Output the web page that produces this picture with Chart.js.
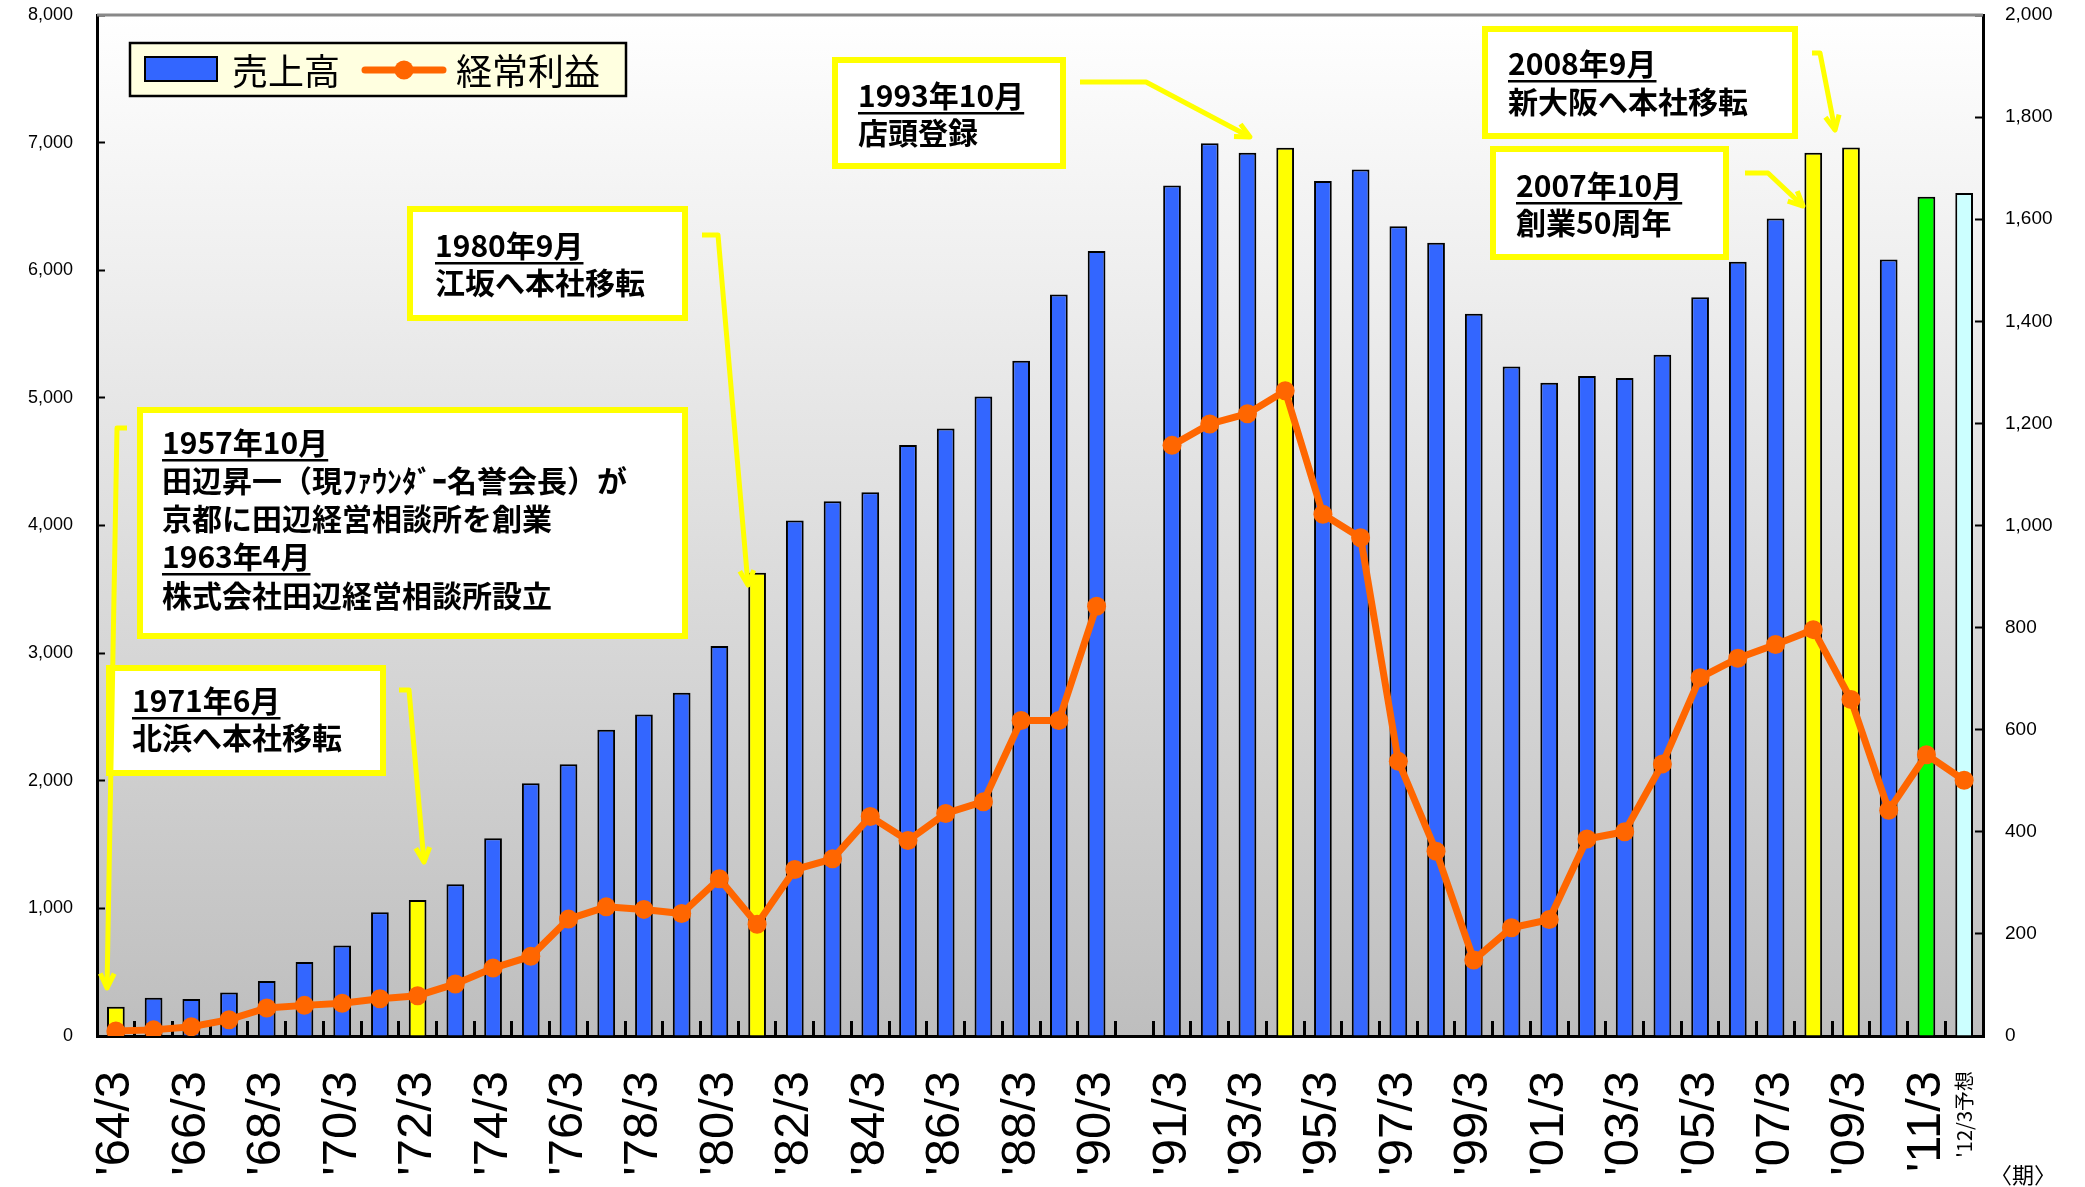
<!DOCTYPE html>
<html lang="ja">
<head>
<meta charset="utf-8">
<title>売上高・経常利益の推移</title>
<script src="https://cdn.jsdelivr.net/npm/chart.js@4.4.1/dist/chart.umd.min.js"></script>
<style>
  html, body { margin: 0; padding: 0; background: #fff; }
  canvas { display: block; }
</style>
</head>
<body>
<canvas id="chart" width="2085" height="1187"></canvas>
<script>
// fiscal periods (March year-end); the empty entry is the blank slot between '90 and '91
const periods = [
  "'64/3", "'65/3", "'66/3", "'67/3", "'68/3", "'69/3", "'70/3", "'71/3", "'72/3", "'73/3",
  "'74/3", "'75/3", "'76/3", "'77/3", "'78/3", "'79/3", "'80/3", "'81/3", "'82/3", "'83/3",
  "'84/3", "'85/3", "'86/3", "'87/3", "'88/3", "'89/3", "'90/3", "",
  "'91/3", "'92/3", "'93/3", "'94/3", "'95/3", "'96/3", "'97/3", "'98/3", "'99/3", "'00/3",
  "'01/3", "'02/3", "'03/3", "'04/3", "'05/3", "'06/3", "'07/3", "'08/3", "'09/3", "'10/3",
  "'11/3", "'12/3予想"
];

// 売上高 (left axis)
const sales = [
  230, 300, 290, 340, 430, 580, 710, 970, 1065, 1190,
  1550, 1980, 2130, 2400, 2520, 2690, 3055, 3630, 4040, 4190,
  4260, 4630, 4760, 5010, 5290, 5810, 6150, null,
  6665, 6995, 6920, 6960, 6700, 6790, 6345, 6215, 5660, 5245,
  5118, 5172, 5155, 5338, 5788, 6066, 6405, 6920, 6962, 6085,
  6575, 6605
];

// 経常利益 (right axis)
const ordinaryProfit = [
  10, 12, 18, 32, 55, 60, 64, 73, 79, 102,
  133, 156, 229, 253, 248, 240, 308, 219, 326, 347,
  430, 383, 436, 459, 618, 618, 842, null,
  1157, 1199, 1219, 1264, 1022, 976, 538, 362, 149, 212,
  228, 386, 400, 533, 702, 740, 767, 796, 659, 442,
  551, 501
];

// which periods get a tick label
const shownTicks = [
  "'64/3", "'66/3", "'68/3", "'70/3", "'72/3", "'74/3", "'76/3", "'78/3", "'80/3", "'82/3",
  "'84/3", "'86/3", "'88/3", "'90/3",
  "'91/3", "'93/3", "'95/3", "'97/3", "'99/3", "'01/3", "'03/3", "'05/3", "'07/3", "'09/3",
  "'11/3", "'12/3予想"
];

// milestone years marked in yellow
const milestonePeriods = ["'64/3", "'72/3", "'81/3", "'94/3", "'08/3", "'09/3"];
const latestPeriod = "'11/3";
const forecastPeriod = "'12/3予想";

const BLUE = '#3366FF';
const ORANGE = '#FF6600';
const JP = '"Noto Sans CJK JP", "Noto Sans", sans-serif';

const barColors = periods.map(p => {
  if (milestonePeriods.includes(p)) return '#FFFF00';
  if (p === latestPeriod) return '#00FF00';
  if (p === forecastPeriod) return '#CCFFFF';
  return BLUE;
});

// gradient plot background + top frame line
const backdrop = {
  id: 'backdrop',
  beforeDraw(chart) {
    const { ctx, chartArea: a } = chart;
    const g = ctx.createLinearGradient(0, a.top, 0, a.bottom);
    g.addColorStop(0, '#FFFFFF');
    g.addColorStop(1, '#BEBEBE');
    ctx.save();
    ctx.fillStyle = g;
    ctx.fillRect(a.left, a.top, a.right - a.left, a.bottom - a.top);
    ctx.restore();
  },
  afterDraw(chart) {
    const { ctx, chartArea: a } = chart;
    ctx.save();
    ctx.strokeStyle = '#888';
    ctx.lineWidth = 3;
    ctx.beginPath();
    ctx.moveTo(a.left, a.top);
    ctx.lineTo(a.right, a.top);
    ctx.stroke();
    ctx.restore();
  }
};

function arrow(ctx, pts) {
  ctx.beginPath();
  ctx.moveTo(pts[0][0], pts[0][1]);
  for (let i = 1; i < pts.length; i++) ctx.lineTo(pts[i][0], pts[i][1]);
  ctx.stroke();
  const [x1, y1] = pts[pts.length - 2];
  const [x2, y2] = pts[pts.length - 1];
  const ang = Math.atan2(y2 - y1, x2 - x1);
  const len = 16;
  ctx.beginPath();
  ctx.moveTo(x2 - len * Math.cos(ang - 0.45), y2 - len * Math.sin(ang - 0.45));
  ctx.lineTo(x2, y2);
  ctx.lineTo(x2 - len * Math.cos(ang + 0.45), y2 - len * Math.sin(ang + 0.45));
  ctx.stroke();
}

// text boxes with arrows, legend, period unit
const notes = {
  id: 'notes',
  afterDraw(chart) {
    const ctx = chart.ctx;
    ctx.save();

    // legend
    const ds = chart.data.datasets;
    const bars = ds.find(d => d.type === 'bar');
    const line = ds.find(d => d.type === 'line');
    ctx.fillStyle = '#FFFFE0';
    ctx.fillRect(130, 43, 496, 53);
    ctx.strokeStyle = '#000';
    ctx.lineWidth = 2.5;
    ctx.strokeRect(130, 43, 496, 53);
    ctx.fillStyle = BLUE;
    ctx.fillRect(145, 57, 72, 24);
    ctx.lineWidth = 2;
    ctx.strokeRect(145, 57, 72, 24);
    ctx.fillStyle = '#000';
    ctx.font = '36px ' + JP;
    ctx.textBaseline = 'middle';
    ctx.textAlign = 'left';
    ctx.fillText(bars.label, 232, 71);
    ctx.strokeStyle = line.borderColor;
    ctx.lineWidth = 7;
    ctx.lineCap = 'round';
    ctx.beginPath();
    ctx.moveTo(365, 70);
    ctx.lineTo(443, 70);
    ctx.stroke();
    ctx.fillStyle = line.borderColor;
    ctx.beginPath();
    ctx.arc(404, 70, 9.5, 0, Math.PI * 2);
    ctx.fill();
    ctx.fillStyle = '#000';
    ctx.fillText(line.label, 456, 71);

    // annotation boxes
    const boxes = [
      { x: 140, y: 410, w: 545, h: 226, tx: 162, lines: [
        ['1957年10月', true, 443], ['田辺昇一（現ﾌｧｳﾝﾀﾞｰ名誉会長）が', false, 481],
        ['京都に田辺経営相談所を創業', false, 519], ['1963年4月', true, 557],
        ['株式会社田辺経営相談所設立', false, 596]] },
      { x: 109, y: 668, w: 274, h: 105, tx: 132, lines: [
        ['1971年6月', true, 701], ['北浜へ本社移転', false, 738]] },
      { x: 410, y: 209, w: 275, h: 109, tx: 435, lines: [
        ['1980年9月', true, 246], ['江坂へ本社移転', false, 283]] },
      { x: 835, y: 60, w: 228, h: 106, tx: 858, lines: [
        ['1993年10月', true, 96], ['店頭登録', false, 133]] },
      { x: 1485, y: 29, w: 310, h: 107, tx: 1508, lines: [
        ['2008年9月', true, 64], ['新大阪へ本社移転', false, 102]] },
      { x: 1493, y: 149, w: 233, h: 108, tx: 1516, lines: [
        ['2007年10月', true, 186], ['創業50周年', false, 223]] }
    ];
    ctx.lineCap = 'butt';
    ctx.lineJoin = 'miter';
    boxes.forEach(b => {
      ctx.fillStyle = '#FFFFFF';
      ctx.fillRect(b.x, b.y, b.w, b.h);
      ctx.strokeStyle = '#FFFF00';
      ctx.lineWidth = 6;
      ctx.strokeRect(b.x, b.y, b.w, b.h);
      ctx.fillStyle = '#000';
      ctx.font = 'bold 30px ' + JP;
      ctx.textBaseline = 'middle';
      b.lines.forEach(([t, under, y]) => {
        ctx.fillText(t, b.tx, y);
        if (under) {
          const w = ctx.measureText(t).width;
          ctx.fillRect(b.tx, y + 16, w, 2.5);
        }
      });
    });

    // arrows
    ctx.strokeStyle = '#FFFF00';
    ctx.lineWidth = 5;
    ctx.lineJoin = 'round';
    arrow(ctx, [[127, 428], [117, 428], [107, 988]]);
    arrow(ctx, [[399, 690], [409, 690], [424, 862]]);
    arrow(ctx, [[702, 235], [718, 235], [748, 585]]);
    arrow(ctx, [[1080, 82], [1146, 82], [1250, 137]]);
    arrow(ctx, [[1812, 53], [1820, 53], [1835, 130]]);
    arrow(ctx, [[1745, 173], [1768, 173], [1803, 206]]);

    // period unit
    ctx.fillStyle = '#000';
    ctx.font = '22px ' + JP;
    ctx.textAlign = 'left';
    ctx.textBaseline = 'middle';
    ctx.fillText('〈期〉', 1990, 1175);

    ctx.restore();
  }
};

const noPad = (s) => { s.paddingTop = 0; s.paddingBottom = 0; };

const ctx = document.getElementById('chart').getContext('2d');
const chart = new Chart(ctx, {
  type: 'bar',
  data: {
    labels: periods,
    datasets: [
      {
        type: 'line',
        label: '経常利益',
        data: ordinaryProfit,
        yAxisID: 'y1',
        order: 0,
        borderColor: ORANGE,
        backgroundColor: ORANGE,
        borderWidth: 7,
        pointRadius: 9.5,
        pointHoverRadius: 9.5,
        pointBorderWidth: 0,
        pointBackgroundColor: ORANGE,
        tension: 0,
        spanGaps: false
      },
      {
        type: 'bar',
        label: '売上高',
        data: sales,
        yAxisID: 'y',
        order: 1,
        backgroundColor: barColors,
        borderColor: '#000',
        borderWidth: 2,
        barPercentage: 0.47,
        categoryPercentage: 1
      }
    ]
  },
  options: {
    responsive: false,
    animation: false,
    events: [],
    layout: { padding: { top: 15, left: 0, right: 0, bottom: 0 } },
    plugins: {
      legend: { display: false },
      tooltip: { enabled: false }
    },
    scales: {
      x: {
        offset: true,
        grid: {
          offset: true,
          drawOnChartArea: false,
          tickLength: -15,
          tickWidth: 3,
          tickColor: '#000'
        },
        border: { color: '#000', width: 3 },
        ticks: {
          autoSkip: false,
          minRotation: 90,
          maxRotation: 90,
          padding: 50,
          color: '#000',
          font: (c) => (c.tick && c.tick.label === forecastPeriod)
            ? { size: 20, family: JP }
            : { size: 49, family: '"Liberation Sans", Arial, sans-serif' },
          callback: function (v) {
            const l = this.getLabelForValue(v);
            return shownTicks.includes(l) ? l : '';
          }
        },
        afterFit: (s) => { s.height = 151; s.paddingTop = 0; }
      },
      y: {
        position: 'left',
        min: 0,
        max: 8000,
        grid: {
          drawOnChartArea: false,
          tickLength: -8,
          tickWidth: 2,
          tickColor: '#000'
        },
        border: { color: '#000', width: 3 },
        ticks: {
          stepSize: 1000,
          padding: 32,
          color: '#000',
          font: { size: 18, family: '"Liberation Sans Narrow", "Liberation Sans", Arial, sans-serif' },
          callback: (v) => v.toLocaleString('en-US')
        },
        afterFit: (s) => { s.width = 97; noPad(s); }
      },
      y1: {
        position: 'right',
        min: 0,
        max: 2000,
        grid: {
          drawOnChartArea: false,
          tickLength: -8,
          tickWidth: 2,
          tickColor: '#000'
        },
        border: { color: '#000', width: 3 },
        ticks: {
          stepSize: 200,
          padding: 30,
          color: '#000',
          font: { size: 19, family: '"Liberation Sans", Arial, sans-serif' },
          callback: (v) => v.toLocaleString('en-US')
        },
        afterFit: (s) => { s.width = 102; noPad(s); }
      }
    }
  },
  plugins: [backdrop, notes]
});
</script>
</body>
</html>
